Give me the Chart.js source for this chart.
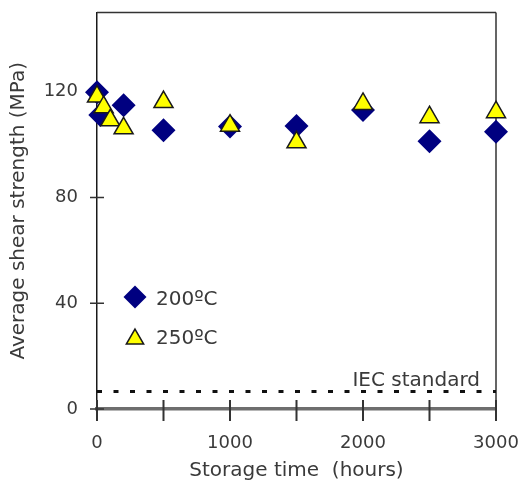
<!DOCTYPE html>
<html><head><meta charset="utf-8">
<script src="https://cdn.jsdelivr.net/npm/chart.js@4.4.1/dist/chart.umd.min.js"></script>
<style>html,body{margin:0;padding:0;background:#fff;}canvas{display:block;}</style>
</head><body>
<canvas id="c" width="525" height="489"></canvas>
<script>
// ---- data ----
const hours200 = [0, 25, 200, 500, 1000, 1500, 2000, 2500, 3000];
const strength200 = [119.8, 111.2, 114.9, 105.5, 106.9, 107.1, 113.1, 101.3, 104.9];
const hours250 = [0, 50, 100, 200, 500, 1000, 1500, 2000, 2500, 3000];
const strength250 = [118.2, 114.2, 109.2, 106.2, 116.1, 107.2, 100.9, 115.4, 110.4, 112.3];
const seriesLabels = ['200ºC', '250ºC'];
const iecLevel = 6.6;
const iecLabel = 'IEC standard';
const xTickLabels = [0, 1000, 2000, 3000];
const xTickMarks = [0, 500, 1000, 1500, 2000, 2500, 3000];
const yTickLabels = [0, 40, 80, 120];
const xTitle = 'Storage time  (hours)';
const yTitle = 'Average shear strength (MPa)';

const FONT = "'DejaVu Sans', sans-serif";
const TEXT = '#3a3a3a';

const toPts = (xs, ys) => xs.map((x, i) => ({x: x, y: ys[i]}));

const decor = {
  id: 'decor',
  beforeDatasetsDraw(chart) {
    const {ctx, chartArea: a, scales: {x, y}} = chart;
    ctx.save();
    ctx.strokeStyle = '#333';
    ctx.lineWidth = 1.5;
    ctx.beginPath();
    ctx.moveTo(a.left, a.top); ctx.lineTo(a.right, a.top);
    ctx.moveTo(a.right, a.top); ctx.lineTo(a.right, a.bottom + 12);
    ctx.stroke();
    ctx.lineWidth = 2;
    ctx.beginPath();
    xTickMarks.forEach(v => {
      const px = x.getPixelForValue(v);
      ctx.moveTo(px, a.bottom - 9); ctx.lineTo(px, a.bottom + 12);
    });
    ctx.stroke();
    ctx.lineWidth = 1.5;
    ctx.beginPath();
    yTickLabels.forEach(v => {
      const py = y.getPixelForValue(v);
      ctx.moveTo(a.left - 7, py); ctx.lineTo(a.left + 7, py);
    });
    ctx.stroke();
    ctx.restore();
  },
  afterDraw(chart) {
    const {ctx, scales: {x, y}} = chart;
    ctx.save();
    ctx.fillStyle = TEXT;
    ctx.font = "20px " + FONT;
    ctx.textAlign = 'right';
    ctx.textBaseline = 'middle';
    ctx.fillText(iecLabel, x.getPixelForValue(2880), y.getPixelForValue(iecLevel) - 11);
    // legend
    const rows = [297, 336];
    seriesLabels.forEach((lab, i) => {
      const d = chart.data.datasets.find(dd => dd.label === lab);
      ctx.save();
      ctx.fillStyle = d.backgroundColor;
      ctx.strokeStyle = d.borderColor;
      ctx.lineWidth = d.borderWidth;
      const tri = d.pointStyle === 'triangle';
      Chart.helpers.drawPoint(ctx, {pointStyle: d.pointStyle, radius: tri ? 10 : 11.5, rotation: 0, borderWidth: d.borderWidth}, 135, rows[i] + (tri ? 3 : 0));
      ctx.restore();
      ctx.fillStyle = TEXT;
      ctx.font = "20px " + FONT;
      ctx.textAlign = 'left';
      ctx.textBaseline = 'middle';
      ctx.fillText(lab, 156, rows[i] + 3);
    });
    ctx.restore();
  }
};

new Chart(document.getElementById('c'), {
  type: 'scatter',
  data: {
    datasets: [
      {label: seriesLabels[0], data: toPts(hours200, strength200), pointStyle: 'rectRot', pointRadius: 12,
       backgroundColor: '#000080', borderColor: '#000080', borderWidth: 0, clip: false, order: 2},
      {label: seriesLabels[1], data: toPts(hours250, strength250), pointStyle: 'triangle', pointRadius: 11,
       backgroundColor: '#ffff00', borderColor: '#1a1a1a', borderWidth: 1.5, clip: false, order: 1},
      {label: iecLabel, type: 'line', data: [{x: 0, y: iecLevel}, {x: 3000, y: iecLevel}],
       borderColor: '#111', borderWidth: 3, borderDash: [5, 11.5], pointRadius: 0, fill: false, order: 3}
    ]
  },
  options: {
    responsive: false,
    animation: false,
    layout: {padding: {left: 0, right: 29, top: 12, bottom: 0}},
    plugins: {legend: {display: false}, tooltip: {enabled: false}},
    scales: {
      x: {
        type: 'linear', min: 0, max: 3000,
        ticks: {stepSize: 500, autoSkip: false, maxRotation: 0, padding: 24, color: TEXT,
                font: {family: FONT, size: 18},
                callback: v => xTickLabels.includes(v) ? String(v) : ''},
        grid: {display: false, drawTicks: false},
        border: {display: true, color: '#6e6e6e', width: 3.5},
        title: {display: true, text: xTitle, color: TEXT, font: {family: FONT, size: 20}, padding: {top: 0, bottom: 6}},
        afterFit: s => { s.height = 80; s.paddingLeft = 0; s.paddingRight = 0; }
      },
      y: {
        type: 'linear', min: 0, max: 150,
        ticks: {stepSize: 40, padding: 19, color: TEXT, font: {family: FONT, size: 18},
                callback: v => yTickLabels.includes(v) ? String(v) : ''},
        grid: {display: false, drawTicks: false},
        border: {display: true, color: '#1a1a1a', width: 1.5},
        title: {display: true, text: yTitle, color: TEXT, font: {family: FONT, size: 20}, padding: {top: 7, bottom: 0}},
        afterFit: s => { s.width = 97; s.paddingTop = 0; s.paddingBottom = 0; }
      }
    }
  },
  plugins: [decor]
});
</script>
</body></html>
